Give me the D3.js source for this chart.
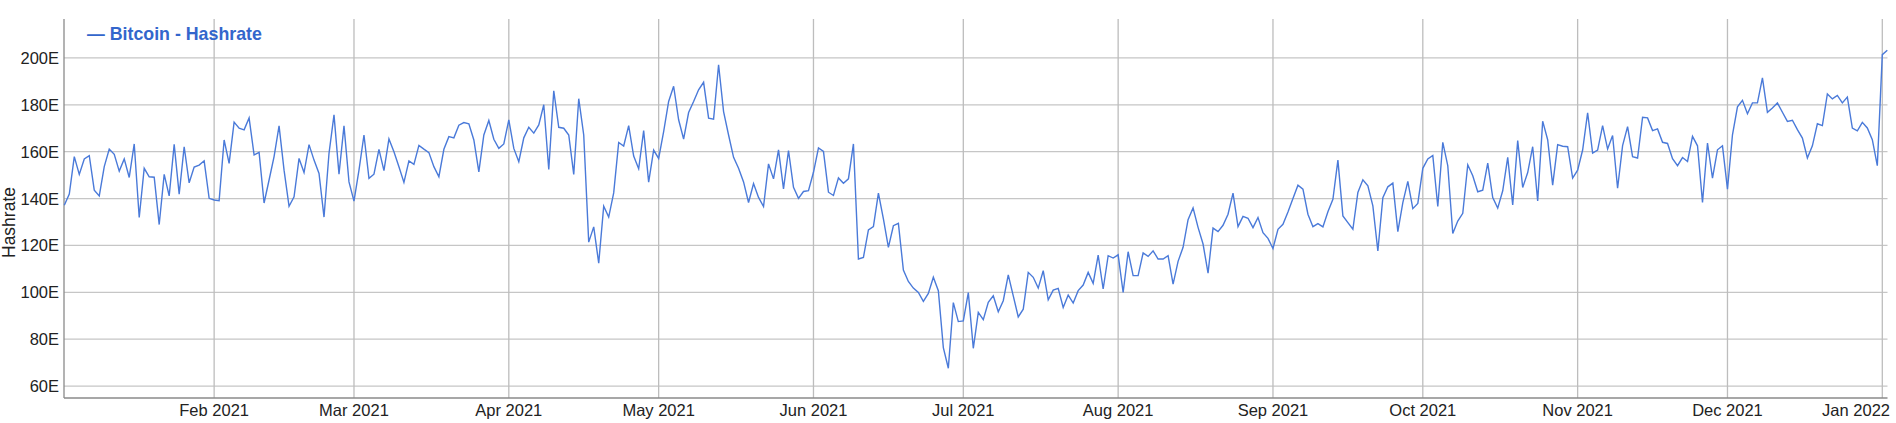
<!DOCTYPE html>
<html>
<head>
<meta charset="utf-8">
<script src="https://cdn.jsdelivr.net/npm/d3@7"></script>
<style>
  body { margin: 0; background: #fff; }
  svg { display: block; font-family: "Liberation Sans", Arial, sans-serif; }
</style>
</head>
<body>
<div id="chart"></div>
<script>
// daily hashrate (EH/s), one array per month, starting 2 Jan 2021
const jan21 = [137.1, 141.9, 157.9, 150.3, 156.9, 158.3, 143.6, 141.1, 153.6, 161.1, 158.9, 151.7, 156.9, 149.0, 163.3,
  131.9, 152.9, 149.3, 149.1, 128.9, 150.3, 141.1, 163.1, 141.9, 162.1, 146.7, 153.4, 154.3, 156.1, 140.1];
const feb21 = [139.4, 139.1, 165.0, 155.0, 172.6, 170.0, 169.3, 174.4, 158.6, 159.7, 138.1, 147.9, 157.9, 171.0,
  152.1, 136.7, 140.7, 157.1, 151.1, 163.0, 156.4, 150.7, 132.1, 159.3, 175.7, 150.4, 171.0, 147.1];
const mar21 = [138.9, 152.1, 167.1, 148.6, 150.4, 161.0, 151.9, 165.4, 160.0, 153.6, 146.9, 156.1, 154.6, 162.7, 161.1,
  159.6, 153.6, 149.3, 161.0, 166.4, 165.9, 171.3, 172.4, 171.9, 165.0, 151.4, 167.1, 173.3, 165.3, 161.4, 163.3];
const apr21 = [173.6, 161.4, 155.7, 165.9, 170.4, 167.9, 171.4, 180.0, 152.4, 186.0, 170.4, 170.0, 167.1, 150.3, 182.6,
  167.1, 121.4, 127.9, 112.4, 136.7, 132.1, 142.4, 163.9, 162.4, 171.1, 158.1, 152.7, 169.0, 147.0, 160.7];
const may21 = [157.1, 168.6, 181.4, 187.9, 173.6, 165.4, 176.7, 181.4, 186.4, 189.6, 174.3, 173.9, 197.1, 177.1, 167.1,
  157.6, 152.9, 147.1, 138.3, 146.4, 140.5, 136.6, 154.8, 148.4, 160.8, 144.1, 160.5, 144.8, 140.1, 143.0, 143.4];
const jun21 = [151.2, 161.6, 160.1, 142.7, 141.3, 148.8, 146.5, 148.4, 163.3, 114.2, 114.9, 126.6, 128.0, 142.3, 131.3,
  119.2, 128.4, 129.4, 109.5, 104.6, 101.8, 99.9, 96.1, 99.5, 106.4, 100.7, 76.4, 67.6, 95.6, 87.5];
const jul21 = [87.8, 99.9, 76.1, 91.4, 88.3, 95.7, 98.5, 91.7, 96.4, 107.4, 98.5, 89.5, 92.8, 108.5, 106.4,
  101.8, 109.2, 96.8, 100.9, 101.7, 93.5, 98.8, 95.4, 100.7, 103.1, 108.5, 103.8, 115.9, 101.4, 115.6, 114.6];
const aug21 = [116.0, 99.9, 117.3, 107.1, 107.1, 116.8, 115.3, 117.7, 114.2, 114.2, 115.6, 103.5, 113.2, 119.2, 131.0,
  136.0, 127.7, 120.6, 108.2, 127.4, 125.9, 128.6, 133.3, 142.3, 128.0, 132.4, 131.6, 127.6, 131.9, 125.4, 123.0];
const sep21 = [118.7, 126.9, 129.0, 134.3, 140.0, 145.7, 144.0, 133.3, 128.0, 129.3, 127.9, 134.4, 139.7, 156.4, 132.6,
  129.7, 126.9, 142.6, 148.0, 145.4, 136.9, 117.6, 140.4, 145.0, 146.6, 125.9, 138.3, 147.3, 135.7, 137.9];
const oct21 = [152.9, 156.9, 158.4, 136.6, 164.0, 154.0, 125.1, 130.4, 133.7, 154.4, 149.7, 142.9, 143.6, 155.1, 140.4,
  135.9, 143.3, 157.6, 137.3, 164.7, 144.7, 151.1, 162.1, 139.0, 173.0, 165.1, 145.7, 163.0, 162.3, 162.1, 148.7];
const nov21 = [152.1, 160.7, 176.6, 159.4, 160.7, 171.1, 161.1, 166.9, 144.4, 162.6, 170.7, 157.9, 157.3, 174.7, 174.4,
  169.0, 169.7, 164.0, 163.5, 157.0, 154.0, 157.5, 155.8, 166.5, 162.5, 138.3, 163.7, 148.7, 160.8, 162.5];
const dec21 = [144.0, 167.2, 179.1, 181.9, 176.2, 180.8, 180.8, 191.5, 176.8, 178.6, 180.8, 176.8, 172.9, 173.4, 169.4,
  165.8, 157.3, 162.5, 171.9, 171.1, 184.6, 182.5, 184.0, 180.8, 183.3, 170.1, 168.9, 172.5, 170.1, 165.1, 154.0];
const jan22 = [201.4, 203.3];

const startDate = new Date(2021, 0, 2);
const yTicks = [60, 80, 100, 120, 140, 160, 180, 200];
const seriesName = "Bitcoin - Hashrate";
const yTitle = "Hashrate";

const values = [].concat(jan21, feb21, mar21, apr21, may21, jun21, jul21, aug21, sep21, oct21, nov21, dec21, jan22);
const data = values.map((v, i) => ({ date: d3.timeDay.offset(startDate, i), value: v }));

const width = 1896;
const height = 423;
const margin = { top: 19, right: 8.5, bottom: 25, left: 64 };

const svg = d3.select("#chart")
  .append("svg")
  .attr("width", width)
  .attr("height", height);

const x = d3.scaleTime()
  .domain(d3.extent(data, d => d.date))
  .range([margin.left + 0.3, width - margin.right - 0.2]);

const y = d3.scaleLinear()
  .domain([54.9, 216.6])
  .range([height - margin.bottom, margin.top]);

const monthTicks = d3.timeMonth.range(new Date(2021, 1, 1), d3.timeDay.offset(x.domain()[1], 1));

// grid
svg.append("g")
  .selectAll("line")
  .data(yTicks)
  .join("line")
  .attr("x1", margin.left)
  .attr("x2", width - margin.right)
  .attr("y1", d => y(d))
  .attr("y2", d => y(d))
  .attr("stroke", "#c6c6c6")
  .attr("stroke-width", 1.3);

svg.append("g")
  .selectAll("line")
  .data(monthTicks)
  .join("line")
  .attr("x1", d => x(d))
  .attr("x2", d => x(d))
  .attr("y1", margin.top)
  .attr("y2", height - margin.bottom)
  .attr("stroke", "#bdbdbd")
  .attr("stroke-width", 1.3);

// axes lines
svg.append("line")
  .attr("x1", margin.left).attr("x2", margin.left)
  .attr("y1", margin.top).attr("y2", height - margin.bottom)
  .attr("stroke", "#8a8a8a").attr("stroke-width", 1.3);
svg.append("line")
  .attr("x1", margin.left).attr("x2", width - margin.right)
  .attr("y1", height - margin.bottom).attr("y2", height - margin.bottom)
  .attr("stroke", "#8a8a8a").attr("stroke-width", 1.3);

// y tick labels
svg.append("g")
  .attr("font-size", "16.5px")
  .attr("fill", "#222")
  .selectAll("text")
  .data(yTicks)
  .join("text")
  .attr("x", margin.left - 5)
  .attr("y", d => y(d) + 6)
  .attr("text-anchor", "end")
  .text(d => d + "E");

// x tick labels (last one kept inside the frame)
const fmt = d3.timeFormat("%b %Y");
svg.append("g")
  .attr("font-size", "16.5px")
  .attr("fill", "#222")
  .selectAll("text")
  .data(monthTicks)
  .join("text")
  .attr("y", height - 7)
  .attr("text-anchor", "middle")
  .text(d => fmt(d))
  .attr("x", function (d) {
    const half = this.getComputedTextLength() / 2;
    return Math.min(x(d), width - 6 - half);
  });

// y title
svg.append("text")
  .attr("transform", `translate(15,${(margin.top + height - margin.bottom) / 2 + 14}) rotate(-90)`)
  .attr("text-anchor", "middle")
  .attr("font-size", "17.5px")
  .attr("fill", "#222")
  .text(yTitle);

// series
const line = d3.line()
  .x(d => x(d.date))
  .y(d => y(d.value));

svg.append("path")
  .datum(data)
  .attr("fill", "none")
  .attr("stroke", "#4a7ad9")
  .attr("stroke-width", 1.4)
  .attr("d", line);

// legend
svg.append("text")
  .attr("x", 87)
  .attr("y", 40)
  .attr("font-size", "17.8px")
  .attr("font-weight", "bold")
  .attr("fill", "#3366cc")
  .text("\u2014 " + seriesName);
</script>
</body>
</html>
